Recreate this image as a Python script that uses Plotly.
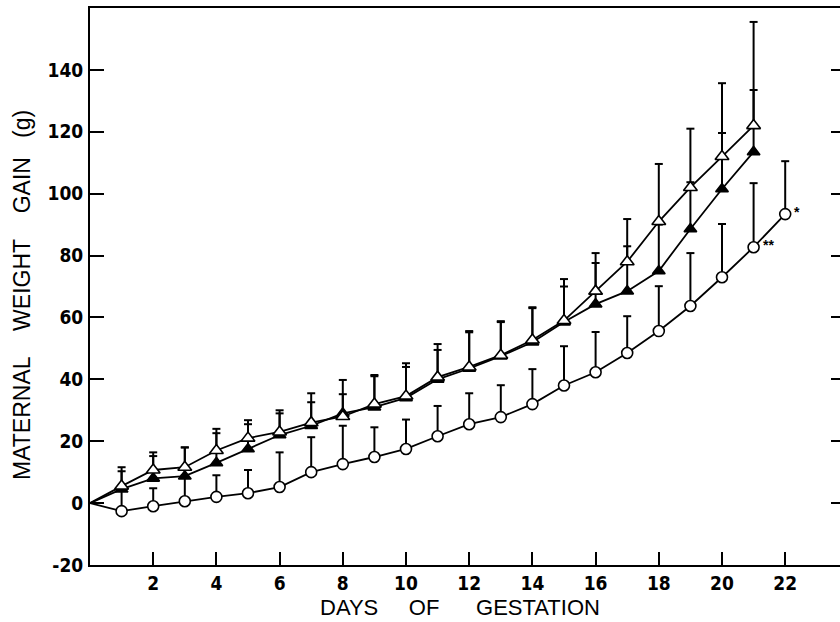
import math
import plotly.graph_objects as go

# ---- data ----
days_tri = list(range(0, 22))          # days 0..21
days_circ = list(range(0, 23))         # days 0..22

open_tri = [0, 5.5, 10.7, 11.6, 17, 21, 23, 26, 28, 32, 34.6, 40.7, 44, 47.8,
            52.7, 59, 68.5, 78, 91, 102, 112, 122]
open_tri_err = [math.nan, 6.1, 5.7, 6.4, 7, 5.8, 7, 9.5, 11.8, 9.4, 10.6, 10.7,
                11.6, 11, 10.6, 13.4, 12.3, 13.8, 18.6, 19, 23.7, 33.5]

filled_tri = [0, 4.5, 8, 8.7, 13, 17.5, 22, 25, 29, 31, 34, 40, 43.5, 47.5,
              52, 58.5, 64.3, 68.5, 75, 88.6, 101.5, 113.5]
filled_tri_err = [math.nan, 5.8, 7.2, 9.3, 9.6, 8, 7, 7.6, 6.2, 10, 10, 9.5,
                  11.7, 11, 11, 11.5, 13.3, 14.5, 15, 15.1, 18.1, 20]

open_circ = [0, -2.6, -1, 0.6, 2, 3.2, 5.2, 10, 12.6, 14.9, 17.5, 21.6, 25.5,
             27.8, 32, 38, 42.3, 48.5, 55.6, 63.7, 73, 82.7, 93.4]
open_circ_err = [math.nan, 6.6, 5.8, 8.4, 7, 7.5, 11.2, 11.3, 12.4, 9.6, 9.5,
                 9.8, 10, 10.3, 11.3, 12.7, 13, 11.9, 14.5, 17.1, 17.2, 20.7, 17.1]

x_ticks = [2, 4, 6, 8, 10, 12, 14, 16, 18, 20, 22]
y_ticks = [-20, 0, 20, 40, 60, 80, 100, 120, 140]

sig_days = [21, 22]
sig_marks = ["**", "*"]

# ---- figure ----
W, H = 840, 622
ML, MR, MT, MB = 90, 0, 8, 57
px_per_day = 31.6
x_max = (W - ML - MR) / px_per_day
CAP_HALF = 4.0 / px_per_day   # half-width of error-bar caps, in day units

tick_font = dict(family="Liberation Sans Narrow, DejaVu Sans Condensed, Arial Narrow, sans-serif",
                 size=19, color="black", weight="bold")
x_title_font = dict(family="Liberation Sans, Arial, sans-serif", size=22, color="black")
y_title_font = dict(family="Liberation Sans, Arial, sans-serif", size=23, color="black")

def sizes(n, s):
    return [0] + [s] * (n - 1)

def err_trace(x, y, err):
    """Upper-only error bars (stem + cap) built from the data arrays."""
    xs, ys = [], []
    for xi, yi, ei in zip(x, y, err):
        if ei is None or (isinstance(ei, float) and math.isnan(ei)):
            continue
        top = yi + ei
        xs += [xi, xi, None, xi - CAP_HALF, xi + CAP_HALF, None]
        ys += [yi, top, None, top, top, None]
    return go.Scatter(x=xs, y=ys, mode="lines",
                      line=dict(color="black", width=2),
                      showlegend=False, hoverinfo="skip", cliponaxis=False)

def line_trace(x, y, symbol, fill, size):
    return go.Scatter(
        x=x, y=y, mode="lines+markers",
        line=dict(color="black", width=1.8),
        marker=dict(symbol=symbol, size=sizes(len(x), size), color=fill,
                    opacity=1, line=dict(color="black", width=1.6)),
        showlegend=False, hoverinfo="skip", cliponaxis=False,
    )

fig = go.Figure()
fig.add_trace(err_trace(days_circ, open_circ, open_circ_err))
fig.add_trace(err_trace(days_tri, filled_tri, filled_tri_err))
fig.add_trace(err_trace(days_tri, open_tri, open_tri_err))
fig.add_trace(line_trace(days_circ, open_circ, "circle", "white", 11))
fig.add_trace(line_trace(days_tri, filled_tri, "triangle-up", "black", 11))
fig.add_trace(line_trace(days_tri, open_tri, "triangle-up", "white", 12))
# invisible trace to carry the right-hand tick axis
fig.add_trace(go.Scatter(x=[None], y=[None], yaxis="y2", showlegend=False,
                         hoverinfo="skip"))

annotations = []
for d, m in zip(sig_days, sig_marks):
    annotations.append(dict(x=d, y=open_circ[d], xref="x", yref="y", text=m,
                            showarrow=False, xanchor="left", yanchor="middle",
                            xshift=7, yshift=2,
                            font=dict(family="Liberation Sans, Arial, sans-serif",
                                      size=14, color="black", weight="bold")))

plot_w = W - ML - MR
plot_h = H - MT - MB
annotations.append(dict(
    text="DAYS\u00a0\u00a0\u00a0\u00a0\u00a0OF\u00a0\u00a0\u00a0\u00a0\u00a0\u00a0GESTATION",
    xref="paper", yref="paper", x=(460 - ML) / plot_w, y=-(607 - (H - MB)) / plot_h,
    xanchor="center", yanchor="middle", showarrow=False, font=x_title_font))
annotations.append(dict(
    text="MATERNAL\u00a0\u00a0\u00a0\u00a0WEIGHT\u00a0\u00a0\u00a0\u00a0GAIN\u00a0\u00a0\u00a0(g)",
    xref="paper", yref="paper", x=(22 - ML) / plot_w, y=((H - MB) - 295) / plot_h,
    xanchor="center", yanchor="middle", showarrow=False, textangle=-90,
    font=y_title_font))

fig.update_layout(
    width=W, height=H,
    margin=dict(l=ML, r=MR, t=MT, b=MB, pad=0),
    paper_bgcolor="white", plot_bgcolor="white",
    xaxis=dict(range=[0, x_max], tickvals=x_ticks, ticktext=[str(v) for v in x_ticks],
               ticks="inside", ticklen=13, tickwidth=2, tickcolor="black",
               showline=True, linecolor="black", linewidth=2, mirror=True,
               showgrid=False, zeroline=False, tickfont=tick_font,
               fixedrange=True),
    yaxis=dict(range=[-20, 160], tickvals=y_ticks, ticktext=[str(v) for v in y_ticks],
               ticks="inside", ticklen=14, tickwidth=2, tickcolor="black",
               showline=True, linecolor="black", linewidth=2, mirror=False,
               showgrid=False, zeroline=False, tickfont=tick_font,
               ticklabelstandoff=1, fixedrange=True),
    yaxis2=dict(range=[-20, 160], tickvals=y_ticks[1:], overlaying="y", side="right",
                ticks="inside", ticklen=9, tickwidth=2, tickcolor="black",
                showline=False, showgrid=False, zeroline=False,
                showticklabels=False, fixedrange=True),
    annotations=annotations,
)

fig.write_html("out.html")
